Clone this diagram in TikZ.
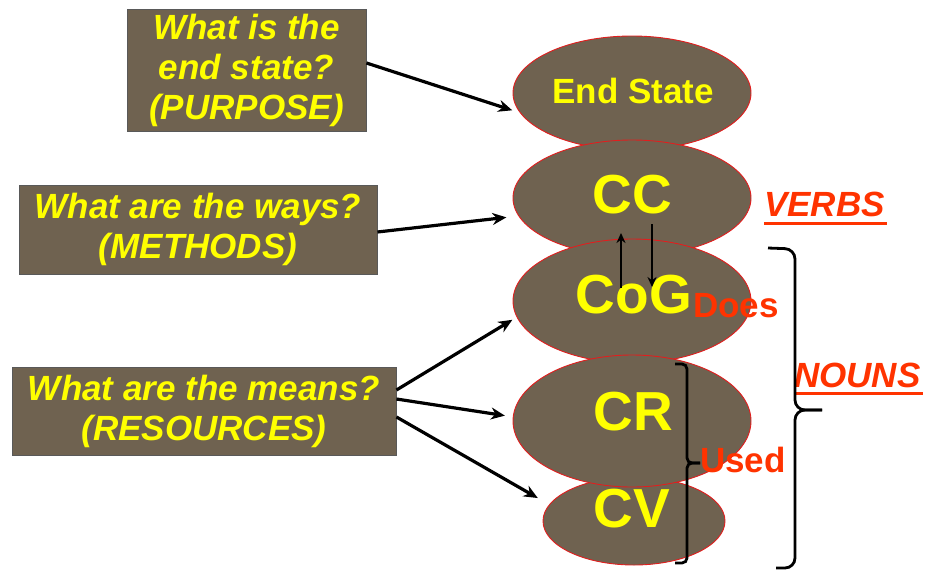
\documentclass[tikz,border=0pt]{standalone}
\usepackage{fontspec}
\setmainfont{Liberation Sans}
\usetikzlibrary{shapes.geometric,arrows.meta}
\definecolor{boxbrown}{RGB}{111,98,80}
\definecolor{txtyellow}{RGB}{255,255,0}
\definecolor{redlbl}{RGB}{255,51,0}
\definecolor{ellred}{RGB}{225,30,30}
\begin{document}
\begin{tikzpicture}[x=1pt,y=-1pt,
 qbox/.style={draw=black!65, line width=0.9pt, fill=boxbrown, text=txtyellow,
   font=\fontsize{35}{40}\selectfont\bfseries\itshape, align=center, inner sep=0pt},
 ell/.style={ellipse, draw=ellred, line width=0.9pt, fill=boxbrown, inner sep=0pt},
 big/.style={text=txtyellow, font=\fontsize{55}{60}\selectfont\bfseries, inner sep=0pt, anchor=base},
 lbl/.style={text=redlbl, font=\fontsize{35}{40}\selectfont\bfseries, inner sep=0pt, anchor=base west},
 ulbl/.style={lbl, font=\fontsize{35}{40}\selectfont\bfseries\itshape},
 conn/.style={line width=3.2pt, -{Stealth[length=14pt,width=12pt]}},
 smallconn/.style={line width=2.4pt, -{Stealth[length=10pt,width=9pt]}},
 bracepath/.style={line width=2.8pt, rounded corners=6pt},
 uline/.style={draw=redlbl, line width=3pt}
]
\useasboundingbox (0,0) rectangle (925,571);

% question boxes
\node[qbox, minimum width=239pt, minimum height=122pt] (b1) at (246.5,70) {What is the\\end state?\\(PURPOSE)};
\node[qbox, minimum width=358pt, minimum height=89pt] (b2) at (198,229.5) {What are the ways?\\(METHODS)};
\node[qbox, minimum width=384pt, minimum height=88pt] (b3) at (204,411) {What are the means?\\(RESOURCES)};

% ellipses
\node[ell, minimum width=238pt, minimum height=114pt] (es) at (632,93) {};
\node[ell, minimum width=238pt, minimum height=116pt] (cc) at (632,198) {};
\node[ell, minimum width=238pt, minimum height=124pt] (cog) at (632,301) {};
\node[ell, minimum width=182pt, minimum height=88pt] (cv) at (634,521) {};
\node[ell, minimum width=238pt, minimum height=132pt] (cr) at (632,421) {};

% ellipse texts
\node[big, font=\fontsize{35}{40}\selectfont\bfseries] (est) at (633,103) {End State};
\node[big] (cct) at (632.5,213) {CC};
\node[big] (cogt) at (634,313) {CoG};
\node[big] (crt) at (633.5,430) {CR};
\node[big] (cvt) at (632,527) {CV};

% red labels
\node[lbl] (does) at (693,317) {Does};
\node[lbl] (used) at (700,472) {Used};
\node[ulbl] (verbs) at (764,216) {VERBS};
\node[ulbl] (nouns) at (794,387) {NOUNS};
\path[uline] ([yshift=-7pt]verbs.base west) -- ([yshift=-7pt,xshift=2pt]verbs.base east);
\path[uline] ([yshift=-6pt]nouns.base west) -- ([yshift=-6pt,xshift=2pt]nouns.base east);

% connectors
\draw[conn, shorten >=8pt] ([yshift=7pt]b1.east) -- (es.190);
\draw[conn, shorten >=12pt] ([yshift=-2.5pt]b2.east) -- (cc.189);
\draw[conn, shorten >=5pt] ([yshift=21pt]b3.east) -- (cog.188);
\draw[conn, shorten >=8pt] ([yshift=12pt]b3.east) -- (cr.178);
\draw[conn, shorten >=13pt] ([yshift=-6pt]b3.east) -- (cv.169);

% CC <-> CoG arrows
\coordinate (upS) at (621,288);
\coordinate (upE) at (621,233);
\coordinate (dnS) at (652,224);
\coordinate (dnE) at (652,287);
\draw[smallconn] (upS) -- (upE);
\draw[smallconn] (dnS) -- (dnE);

% small bracket (Used)
\coordinate (sbTop) at (675,364);
\coordinate (sbMid) at (700,463);
\coordinate (sbBot) at (675,563);
\draw[bracepath, rounded corners=5pt] (sbTop) -- (687,364) -- (687,463) -- (sbMid);
\draw[bracepath, rounded corners=5pt] (sbMid) -- (687,463) -- (687,563) -- (sbBot);

% big brace (NOUNS)
\coordinate (bbTop) at (768,248);
\coordinate (bbMid) at (822,410);
\coordinate (bbBot) at (776,568);
\draw[bracepath, rounded corners=10pt] (bbTop) -- (795,249) -- (795,410) -- (bbMid);
\draw[bracepath, rounded corners=10pt] (bbMid) -- (795,410) -- (795,568) -- (bbBot);
\end{tikzpicture}
\end{document}
